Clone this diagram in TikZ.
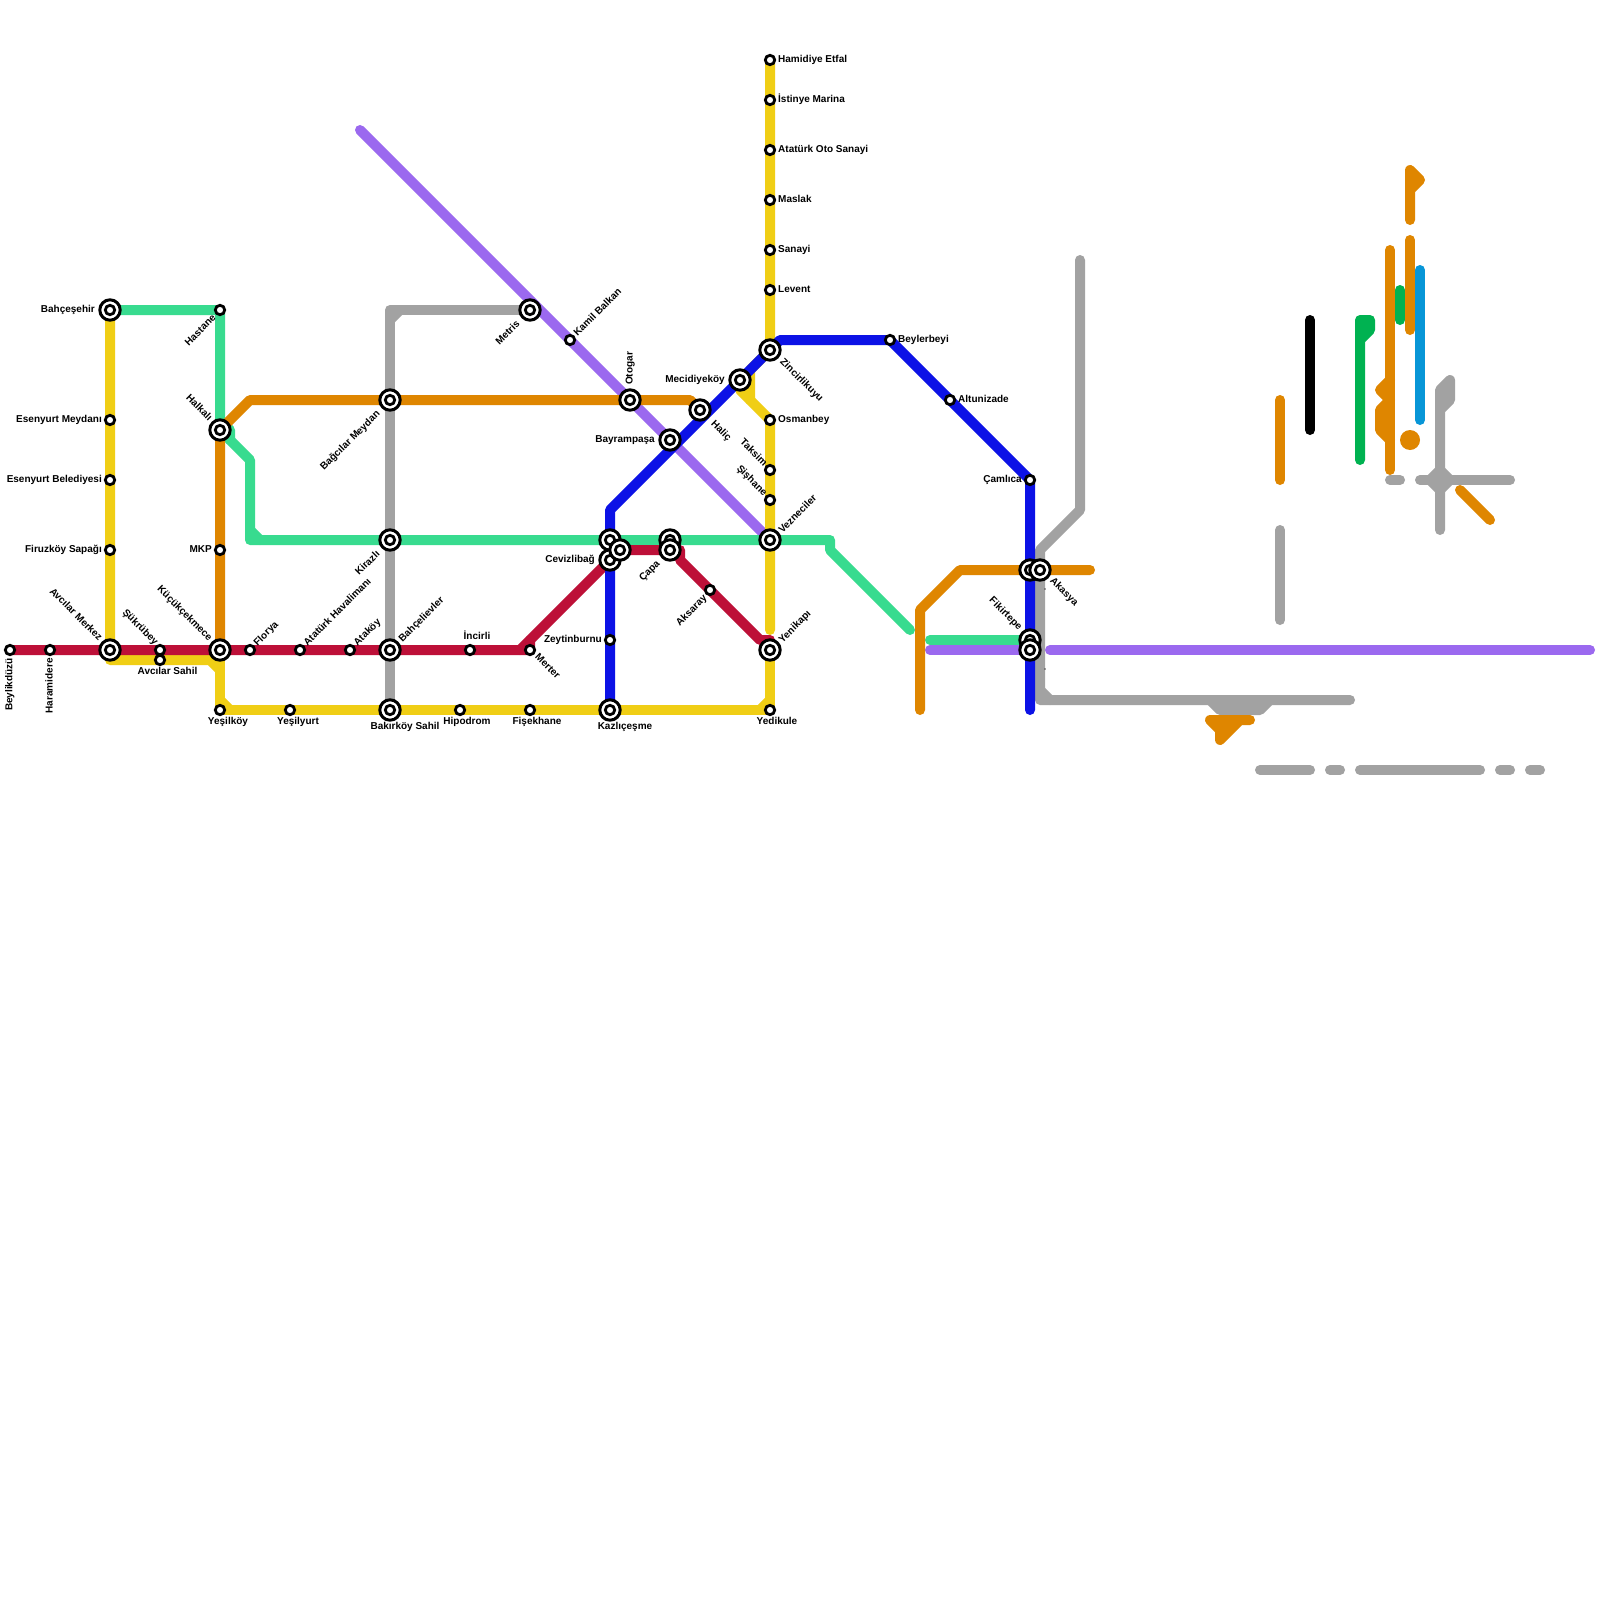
\documentclass[tikz,border=0pt]{standalone}
\usepackage{fontspec}
\setmainfont{Liberation Sans}
\definecolor{cred}{HTML}{BD1038}
\definecolor{cyel}{HTML}{F0CE15}
\definecolor{cmint}{HTML}{38DB8F}
\definecolor{cpur}{HTML}{9B69EF}
\definecolor{cblu}{HTML}{0C12E6}
\definecolor{cora}{HTML}{DF8600}
\definecolor{cgry}{HTML}{A2A2A2}
\definecolor{cgrn}{HTML}{00B251}
\definecolor{ccya}{HTML}{0896D7}
\tikzset{
  metro/.style={line width=10pt,line cap=round,line join=round},
  ring/.style={circle,draw=black,fill=white,line width=3pt,minimum size=20.4pt,inner sep=0pt,outer sep=0pt},
  dot/.style={circle,draw=black,fill=white,line width=2.8pt,minimum size=9.4pt,inner sep=0pt,outer sep=0pt},
  lbl/.style={inner sep=0pt,text height=9pt,text depth=2pt,font=\fontsize{10}{12}\selectfont\bfseries,text=black},
  lw/.style={lbl,anchor=west},
  le/.style={lbl,anchor=east},
  lc/.style={lbl,anchor=center},
}
\newcommand{\bigst}[1]{\node[ring] (#1r) at (#1) {};\node[dot] (#1d) at (#1) {};}
\newcommand{\smst}[1]{\node[dot] (#1d) at (#1) {};}
\begin{document}
\begin{tikzpicture}[x=1pt,y=-1pt]
\useasboundingbox (0,0) rectangle (1600,1600);
\fill[white] (0,0) rectangle (1600,1600);
% stations
\foreach \n/\x/\y in {bahc/110/310,hast/220/310,esm/110/420,esb/110/480,firu/110/550,avm/110/650,beyl/10/650,hara/50/650,sukr/160/650,avs/160/660,kuc/220/650,flor/250/650,atah/300/650,atak/350/650,bahl/390/650,halk/220/430,mkp/220/550,yesk/220/710,yesy/290/710,baks/390/710,bagm/390/400,kira/390/540,metr/530/310,kamb/570/340,otog/630/400,meci/740/380,hali/700/410,bayr/670/440,zinc/770/350,leve/770/290,osma/770/420,taks/770/470,sish/770/500,vezn/770/540,yeni/770/650,yedi/770/710,kazl/610/710,zeyt/610/640,cevz/610/560,cevt/610/540,cevr/620/550,capa/670/550,capt/670/540,aksa/710/590,mert/530/650,inci/470/650,hipo/460/710,fise/530/710,hami/770/60,isti/770/100,aoto/770/150,masl/770/200,sana/770/250,beyb/890/340,altu/950/400,caml/1030/480,fikr/1030/650,fikt/1030/640,akal/1030/570,akas/1040/570}
  \coordinate (\n) at (\x,\y);
% way points
\foreach \n/\x/\y in {pua/360/130,pub/1590/650,puc/930/650,pud/1050/650,
 gra/390/320,grb/400/310,grc/390/310,grd/1080/260,gre/1080/510,grf/1040/550,grg/1040/700,grh/1350/700,gri/1040/690,grj/1050/700,grk/1210/700,grl/1220/710,grm/1260/710,grn/1270/700,
 yea/110/660,yeb/210/660,yec/220/670,yed/230/710,yee/220/700,yef/760/710,yeg/770/700,yeh/770/630,yei/740/390,yej/750/400,yek/750/370,
 mia/220/420,mib/230/430,mic/230/440,mid/250/460,mie/250/540,mif/250/530,mig/260/540,mih/830/540,mii/830/550,mij/910/630,mik/930/640,
 ora/250/400,orb/690/400,orc/700/410,ord/920/710,ore/920/610,orf/960/570,org/1090/570,
 rea/530/640,reb/520/650,rec/680/550,red/680/560,ree/760/640,ref/770/640,
 bla/610/510,blb/780/340,ble/1030/710}
  \coordinate (\n) at (\x,\y);
% separate fragments
\foreach \n/\x/\y in {oa/1280/400,ob/1280/480,ga/1280/530,gb/1280/620,ka/1310/320,kb/1310/430,
 na/1360/460,nb/1360/320,nc/1370/320,nd/1370/330,ne/1360/340,sa/1400/290,sb/1400/320,ca/1420/270,cb/1420/420,
 pa/1390/250,pb/1390/470,pc/1390/380,pd/1380/390,pe/1390/400,pf/1380/410,pg/1380/430,ph/1390/440,
 qa/1410/220,qb/1410/170,qc/1420/180,qd/1410/190,ra/1410/240,rb/1410/330,dd/1410/440,
 ha/1440/530,hb/1440/390,hc/1450/380,hd/1450/400,he/1440/410,hf/1420/480,hg/1510/480,hh/1390/480,hi/1400/480,
 ja/1430/480,jb/1440/470,jc/1450/480,jd/1440/490,ta/1460/490,tb/1490/520,
 ua/1210/720,ub/1250/720,uc/1240/720,ud/1220/740,ue/1220/730,
 da/1260/770,db/1310/770,dc/1330/770,de/1340/770,df/1360/770,dg/1480/770,dh/1500/770,di/1510/770,dj/1530/770,dk/1540/770,
 ta1/1045/589,ta2/1045/669}
  \coordinate (\n) at (\x,\y);
% gray
\draw[metro,cgry] (baks)--(grc)--(metr);
\draw[metro,cgry] (gra)--(grb);
\draw[metro,cgry] (grd)--(gre)--(grf)--(grg)--(grh);
\draw[metro,cgry] (gri)--(grj);
\draw[metro,cgry,fill=cgry] (grk)--(grl)--(grm)--(grn);
\draw[metro,cgry] (ga)--(gb);
\draw[metro,cgry] (ha)--(hb)--(hc)--(hd)--(he);
\draw[metro,cgry] (hf)--(hg);
\draw[metro,cgry] (hh)--(hi);
\draw[metro,cgry,fill=cgry] (ja)--(jb)--(jc)--(jd)--cycle;
\draw[metro,cgry] (da)--(db);
\draw[metro,cgry] (dc)--(de);
\draw[metro,cgry] (df)--(dg);
\draw[metro,cgry] (dh)--(di);
\draw[metro,cgry] (dj)--(dk);
% purple
\draw[metro,cpur] (pua)--(vezn);
\draw[metro,cpur] (puc)--(fikr);
\draw[metro,cpur] (pud)--(pub);
% yellow
\draw[metro,cyel] (bahc)--(yea)--(yeb)--(yec);
\draw[metro,cyel] (kuc)--(yesk)--(yedi);
\draw[metro,cyel] (yee)--(yed);
\draw[metro,cyel] (yef)--(yeg);
\draw[metro,cyel] (yedi)--(yeni);
\draw[metro,cyel] (yeh)--(osma)--(yei);
\draw[metro,cyel] (yej)--(yek)--(zinc)--(hami);
% mint
\draw[metro,cmint] (bahc)--(hast)--(halk)--(mid)--(mie)--(mih)--(mii)--(mij);
\draw[metro,cmint] (mia)--(mib)--(mic);
\draw[metro,cmint] (mif)--(mig);
\draw[metro,cmint] (mik)--(fikt);
% orange
\draw[metro,cora] (kuc)--(halk)--(ora)--(orb)--(orc);
\draw[metro,cora] (ord)--(ore)--(orf)--(org);
\draw[metro,cora] (oa)--(ob);
\draw[metro,cora,fill=cora] (pa)--(pb);
\draw[metro,cora,fill=cora] (pc)--(pd)--(pe)--(pf)--(pg)--(ph);
\draw[metro,cora,fill=cora] (qa)--(qb)--(qc)--(qd);
\draw[metro,cora] (ra)--(rb);
\draw[metro,cora] (ta)--(tb);
\draw[metro,cora,fill=cora] (ua)--(ub)--(uc)--(ud)--(ue)--cycle;
\node[circle,fill=cora,minimum size=20pt,inner sep=0pt,outer sep=0pt] (ddn) at (dd) {};
% other fragments
\draw[metro,black] (ka)--(kb);
\draw[metro,cgrn,fill=cgrn] (na)--(nb)--(nc)--(nd)--(ne);
\draw[metro,cgrn] (sa)--(sb);
\draw[metro,ccya] (ca)--(cb);
% red
\draw[metro,cred] (beyl)--(mert)--(rea)--(cevz);
\draw[metro,cred] (reb)--(rea);
\draw[metro,cred] (cevz)--(cevr)--(rec)--(red)--(ree)--(ref)--(yeni);
% blue
\draw[metro,cblu] (kazl)--(bla)--(zinc)--(blb)--(beyb)--(caml)--(fikr)--(ble);
% tiny marks
\fill[black!70] (ta1) circle (0.8);
\fill[black!70] (ta2) circle (0.8);
% stations
\bigst{bahc}\bigst{avm}\bigst{kuc}\bigst{halk}\bigst{bagm}\bigst{kira}\bigst{bahl}\bigst{baks}\bigst{metr}\bigst{otog}\bigst{meci}\bigst{hali}\bigst{bayr}\bigst{zinc}\bigst{vezn}\bigst{yeni}\bigst{kazl}
\bigst{cevt}\bigst{cevz}\bigst{cevr}\bigst{capt}\bigst{capa}\bigst{fikt}\bigst{fikr}\bigst{akal}\bigst{akas}
\smst{hast}\smst{esm}\smst{esb}\smst{firu}\smst{beyl}\smst{hara}\smst{sukr}\smst{avs}\smst{flor}\smst{atah}\smst{atak}\smst{mkp}\smst{yesk}\smst{yesy}\smst{kamb}\smst{leve}\smst{osma}\smst{taks}\smst{sish}\smst{yedi}\smst{zeyt}\smst{aksa}\smst{mert}\smst{inci}\smst{hipo}\smst{fise}\smst{hami}\smst{isti}\smst{aoto}\smst{masl}\smst{sana}\smst{beyb}\smst{altu}\smst{caml}
% labels: horizontal, to the left
\node[le] (tbahc) at (95,309) {Bahçeşehir};
\node[le] (tesm) at (102,419) {Esenyurt Meydanı};
\node[le] (tesb) at (102,479) {Esenyurt Belediyesi};
\node[le] (tfiru) at (102,549) {Firuzköy Sapağı};
\node[le] (tmkp) at (212,549) {MKP};
\node[le] (tbayr) at (655,439) {Bayrampaşa};
\node[le] (tmeci) at (725,379) {Mecidiyeköy};
\node[le] (tcevz) at (595,559) {Cevizlibağ};
\node[le] (tzeyt) at (602,639) {Zeytinburnu};
\node[le] (tcaml) at (1022,479) {Çamlıca};
% to the right
\node[lw] (thami) at (778,59) {Hamidiye Etfal};
\node[lw] (tisti) at (778,99) {İstinye Marina};
\node[lw] (taoto) at (778,149) {Atatürk Oto Sanayi};
\node[lw] (tmasl) at (778,199) {Maslak};
\node[lw] (tsana) at (778,249) {Sanayi};
\node[lw] (tleve) at (778,289) {Levent};
\node[lw] (tosma) at (778,419) {Osmanbey};
\node[lw] (tbeyb) at (898,339) {Beylerbeyi};
\node[lw] (taltu) at (958,399) {Altunizade};
% centred
\node[lc] (tavs) at (167.5,671) {Avcılar Sahil};
\node[lc] (tyesk) at (228,721) {Yeşilköy};
\node[lc] (tyesy) at (298,721) {Yeşilyurt};
\node[lc] (tbaks) at (405,726) {Bakırköy Sahil};
\node[lc] (thipo) at (467,721) {Hipodrom};
\node[lc] (tfise) at (537,721) {Fişekhane};
\node[lc] (tkazl) at (625,726) {Kazlıçeşme};
\node[lc] (tyedi) at (777,721) {Yedikule};
\node[lc] (tinci) at (477,636) {İncirli};
% vertical
\node[le,rotate=90] (tbeyl) at (9,658) {Beylikdüzü};
\node[le,rotate=90] (thara) at (49,658) {Haramidere};
\node[lw,rotate=90] (totog) at (629,385) {Otogar};
% rising, text ends at the station
\node[le,rotate=45] (thast) at (214,316) {Hastane};
\node[le,rotate=45] (tbagm) at (378,412) {Bağcılar Meydan};
\node[le,rotate=45] (tkira) at (378,552) {Kirazlı};
\node[le,rotate=45] (tmetr) at (518,322) {Metris};
\node[le,rotate=45] (tcapa) at (658,562) {Çapa};
\node[le,rotate=45] (taksa) at (705,596) {Aksaray};
% rising, text starts at the station
\node[lw,rotate=45] (tflor) at (255,644) {Florya};
\node[lw,rotate=45] (tatah) at (305,644) {Atatürk Havalimanı};
\node[lw,rotate=45] (tatak) at (355,644) {Ataköy};
\node[lw,rotate=45] (tbahl) at (400,640) {Bahçelievler};
\node[lw,rotate=45] (tkamb) at (575,334) {Kamil Balkan};
\node[lw,rotate=45] (tvezn) at (780,531) {Vezneciler};
\node[lw,rotate=45] (tyeni) at (780,641) {Yenikapı};
% falling, text ends at the station
\node[le,rotate=-45] (thalk) at (211,419) {Halkalı};
\node[le,rotate=-45] (tavm) at (101,639) {Avcılar Merkez};
\node[le,rotate=-45] (tsukr) at (157,643) {Şükrübey};
\node[le,rotate=-45] (tkuc) at (211,639) {Küçükçekmece};
\node[le,rotate=-45] (ttaks) at (766,464) {Taksim};
\node[le,rotate=-45] (tsish) at (766,494) {Şişhane};
\node[le,rotate=-45] (tfikr) at (1021,628) {Fikirtepe};
% falling, text starts at the station
\node[lw,rotate=-45] (tmert) at (537,655) {Merter};
\node[lw,rotate=-45] (thali) at (713,422) {Haliç};
\node[lw,rotate=-45] (tzinc) at (782,360) {Zincirlikuyu};
\node[lw,rotate=-45] (takas) at (1052,579) {Akasya};
\end{tikzpicture}
\end{document}
